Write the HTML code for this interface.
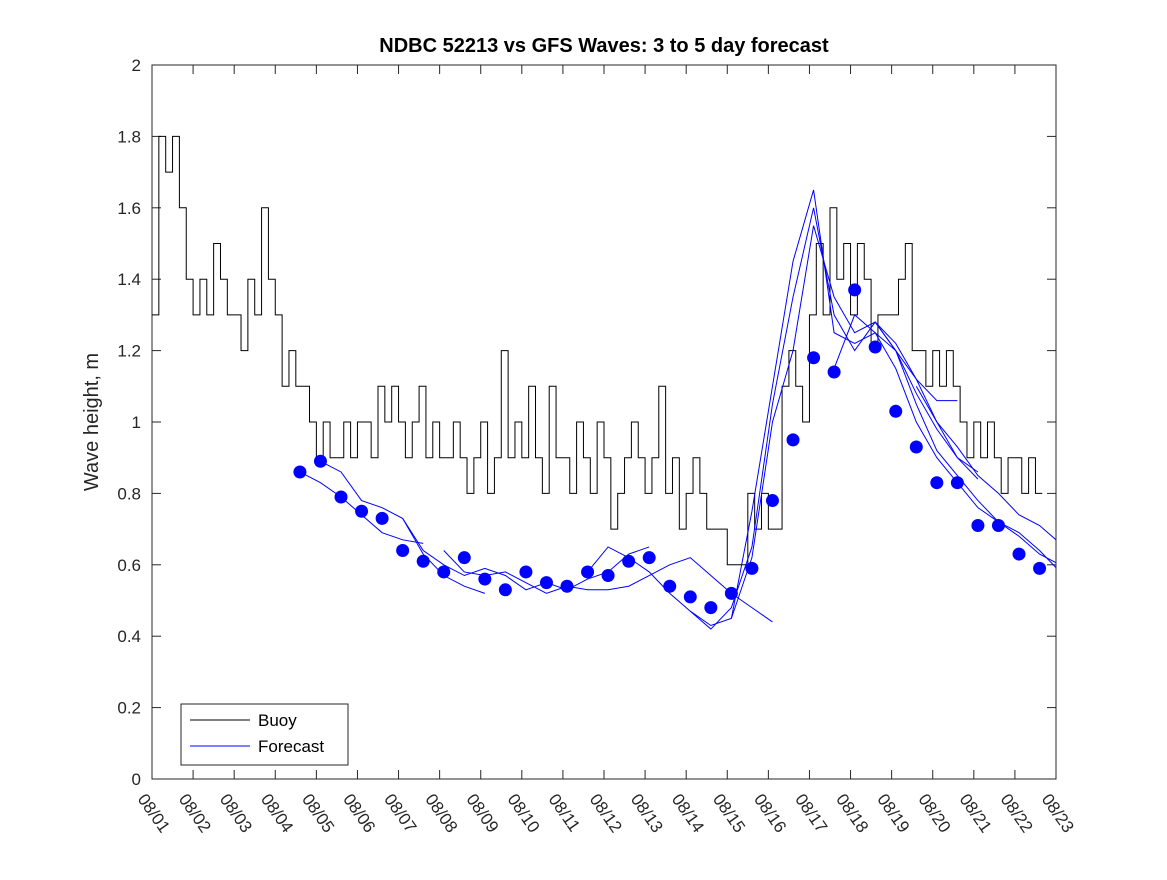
<!DOCTYPE html>
<html><head><meta charset="utf-8"><style>body{margin:0;background:#fff}svg text{font-family:"Liberation Sans",sans-serif}</style></head>
<body>
<svg id="c" width="1167" height="875"></svg>
<script>
const buoyStartDay = 0, buoyStep = 1/6;
const buoyValues = [
1.3,1.8,1.7,1.8,1.6,1.4, 1.3,1.4,1.3,1.5,1.4,1.3, 1.3,1.2,1.4,1.3,1.6,1.4, 1.3,1.1,1.2,1.1,1.1,1.0,
0.9,1.0,0.9,0.9,1.0,0.9, 1.0,1.0,0.9,1.1,1.0,1.1, 1.0,0.9,1.0,1.1,0.9,1.0, 0.9,0.9,1.0,0.9,0.8,0.9,
1.0,0.8,0.9,1.2,0.9,1.0, 0.9,1.1,0.9,0.8,1.1,0.9, 0.9,0.8,1.0,0.9,0.8,1.0, 0.9,0.7,0.8,0.9,1.0,0.9,
0.8,0.9,1.1,0.8,0.9,0.7, 0.8,0.9,0.8,0.7,0.7,0.7, 0.6,0.6,0.6,0.8,0.7,0.8, 0.7,0.7,1.1,1.2,1.1,1.0,
1.3,1.5,1.3,1.6,1.4,1.5, 1.3,1.5,1.4,1.2,1.3,1.3, 1.3,1.4,1.5,1.2,1.2,1.1, 1.2,1.1,1.2,1.1,1.0,0.9,
1.0,0.9,1.0,0.9,0.8,0.9, 0.9,0.8,0.9,0.8];
const dotStartDay = 3.6, dotStep = 0.5;
const dotValues = [0.86,0.89,0.79,0.75,0.73,0.64,0.61,0.58,0.62,0.56,0.53,0.58,0.55,0.54,0.58,0.57,0.61,0.62,0.54,0.51,0.48,0.52,0.59,0.78,0.95,1.18,1.14,1.37,1.21,1.03,0.93,0.83,0.83,0.71,0.71,0.63,0.59];
const runStarts = [3.6,4.1,6.1,7.1,10.6,13.1,14.1,16.6,17.6,18.6];
const runValues = [
[0.86,0.83,0.79,0.74,0.69,0.67,0.66],
[0.89,0.86,0.78,0.76,0.73,0.63,0.57,0.54,0.52],
[0.73,0.64,0.60,0.57,0.59,0.57,0.53,0.55,0.53,0.56,0.58,0.63,0.65],
[0.64,0.58,0.57,0.58,0.55,0.52,0.54,0.53,0.53,0.54,0.57,0.60,0.62,0.57,0.52,0.48,0.44],
[0.58,0.65,0.62,0.58,0.52,0.47,0.42,0.48,0.65,1.05,1.35,1.60,1.30,1.20,1.28,1.20,1.05,0.92,0.85,0.78,0.72,0.68,0.63,0.60],
[0.47,0.43,0.45,0.75,1.10,1.45,1.65,1.25,1.22,1.25,1.15,1.00,0.90,0.83,0.76,0.72,0.69,0.64,0.58,0.56,0.55],
[0.45,0.62,1.00,1.20,1.55,1.35,1.25,1.28,1.22,1.12,1.00,0.93,0.85,0.80,0.74,0.71,0.66,0.60,0.57],
[1.15,1.30,1.25,1.20,1.08,0.98,0.90,0.84],
[1.28,1.20,1.12,1.06,1.06],
[1.10,1.00,0.90,0.86]];
const xLabels = ["08/01","08/02","08/03","08/04","08/05","08/06","08/07","08/08","08/09","08/10","08/11","08/12","08/13","08/14","08/15","08/16","08/17","08/18","08/19","08/20","08/21","08/22","08/23"];
const yTicks = [0,0.2,0.4,0.6,0.8,1,1.2,1.4,1.6,1.8,2];

const L=152,R=1056,T=65,B=779;
const X=d=>L+d*(R-L)/22, Y=v=>B-v*(B-T)/2;
const svg=document.getElementById('c'), NS='http://www.w3.org/2000/svg';
function mk(t,a,p){const e=document.createElementNS(NS,t);for(const k in a)e.setAttribute(k,a[k]);(p||svg).appendChild(e);return e;}
let e=mk('rect',{x:L,y:T,width:R-L,height:B-T,fill:'#fff',stroke:'#262626','stroke-width':1});


yTicks.forEach(v=>{const y=Y(v);
 mk('line',{x1:L,x2:L+9,y1:y,y2:y,stroke:'#262626'});mk('line',{x1:R-9,x2:R,y1:y,y2:y,stroke:'#262626'});
 const t=mk('text',{x:141,y:y+6,'text-anchor':'end','font-size':17,fill:'#262626'});t.textContent=String(v);
 
 });
xLabels.forEach((s,i)=>{const x=X(i);
 mk('line',{x1:x,x2:x,y1:B,y2:B-9,stroke:'#262626'});mk('line',{x1:x,x2:x,y1:T,y2:T+9,stroke:'#262626'});
 const t=mk('text',{x:x-15,y:B+20,'font-size':17,fill:'#262626',transform:`rotate(55 ${x-15} ${B+20})`});t.textContent=s;
 
 });
let p='';buoyValues.forEach((v,i)=>{const x0=X(buoyStartDay+i*buoyStep),x1=X(buoyStartDay+(i+1)*buoyStep),y=Y(v);p+=(i?'L':'M')+x0+' '+y+'L'+x1+' '+y;});
e=mk('path',{d:p,fill:'none',stroke:'#000','stroke-width':1});


const clip=mk('clipPath',{id:'pc'});mk('rect',{x:L,y:T,width:R-L,height:B-T},clip);
runValues.forEach((vals,r)=>{const d=vals.map((v,i)=>(i?'L':'M')+X(runStarts[r]+i*dotStep)+' '+Y(v)).join('');
 const el=mk('path',{d:d,fill:'none',stroke:'#0000ff','stroke-width':1,'clip-path':'url(#pc)'});
 
 });
dotValues.forEach((v,i)=>{const c=mk('circle',{cx:X(dotStartDay+i*dotStep),cy:Y(v),r:6.5,fill:'#0000ff'});
 
 });
e=mk('text',{x:604,y:52,'text-anchor':'middle','font-size':20,'font-weight':'bold',fill:'#000'});e.textContent='NDBC 52213 vs GFS Waves: 3 to 5 day forecast';


e=mk('text',{x:98,y:422,'text-anchor':'middle','font-size':20,fill:'#262626',transform:'rotate(-90 98 422)'});e.textContent='Wave height, m';


const g=mk('g',{});


mk('rect',{x:181,y:704,width:167,height:61,fill:'#fff',stroke:'#262626'},g);
mk('line',{x1:190,x2:250,y1:720,y2:720,stroke:'#000'},g);
mk('line',{x1:190,x2:250,y1:746,y2:746,stroke:'#0000ff'},g);
let t=mk('text',{x:258,y:726,'font-size':17,fill:'#000'},g);t.textContent='Buoy';


t=mk('text',{x:258,y:752,'font-size':17,fill:'#000'},g);t.textContent='Forecast';


</script>
</body></html>
